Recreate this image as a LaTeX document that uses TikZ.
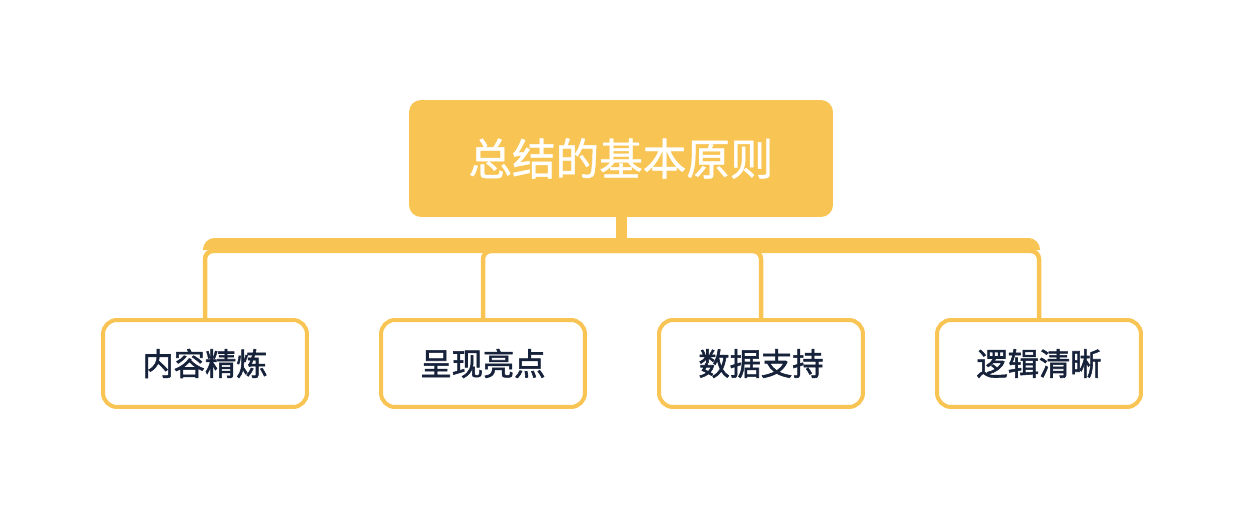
\documentclass[tikz,border=0pt]{standalone}
\usepackage{fontspec}
\newfontfamily\cjk[FakeBold = 1]{Noto Sans CJK SC}
\newfontfamily\cjkleaf[FakeBold = 1.8]{Noto Sans CJK SC}
\definecolor{boxyellow}{HTML}{F8C555}
\definecolor{textnavy}{HTML}{16213A}

\begin{document}
\begin{tikzpicture}[x = 0.02cm, y = 0.02cm,
		rootbox/.style = {fill = boxyellow, rounded corners = 0.24cm, minimum width = 8.48cm, minimum height = 2.34cm, inner sep = 0pt, text = white, font = \cjk\fontsize{24.8}{28}\selectfont},
		leafbox/.style = {draw = boxyellow, line width = 0.08cm, rounded corners = 0.28cm, fill = white, minimum width = 4.08cm, minimum height = 1.74cm, inner sep = 0pt, text = textnavy, font = \cjkleaf\fontsize{17.8}{21}\selectfont},
		leg/.style = {draw = boxyellow, line width = 0.09cm, rounded corners = 0.16cm}]
		\useasboundingbox (0, 0) rectangle (1242, 508);
		\node[rootbox] (root) at (621, 349.5) {总结的基本原则};
		\foreach \x/\name/\txt in {205/c1/内容精炼, 483/c2/呈现亮点, 761/c3/数据支持, 1039/c4/逻辑清晰}
			\node[leafbox] (\name) at (\x, 144.5) {\txt};
		\coordinate (hub) at (621, 257);
		\foreach \name in {c1, c2, c3, c4}
			\draw[leg] (hub) -| (\name.north);
		\draw[boxyellow, line width = 0.24cm, rounded corners = 0.12cm] (209, 258) -- (209, 264) -- (1034, 264) -- (1034, 258);
		\draw[boxyellow, line width = 0.22cm] (root.south) -- (621, 262);
	\end{tikzpicture}
\end{document}
